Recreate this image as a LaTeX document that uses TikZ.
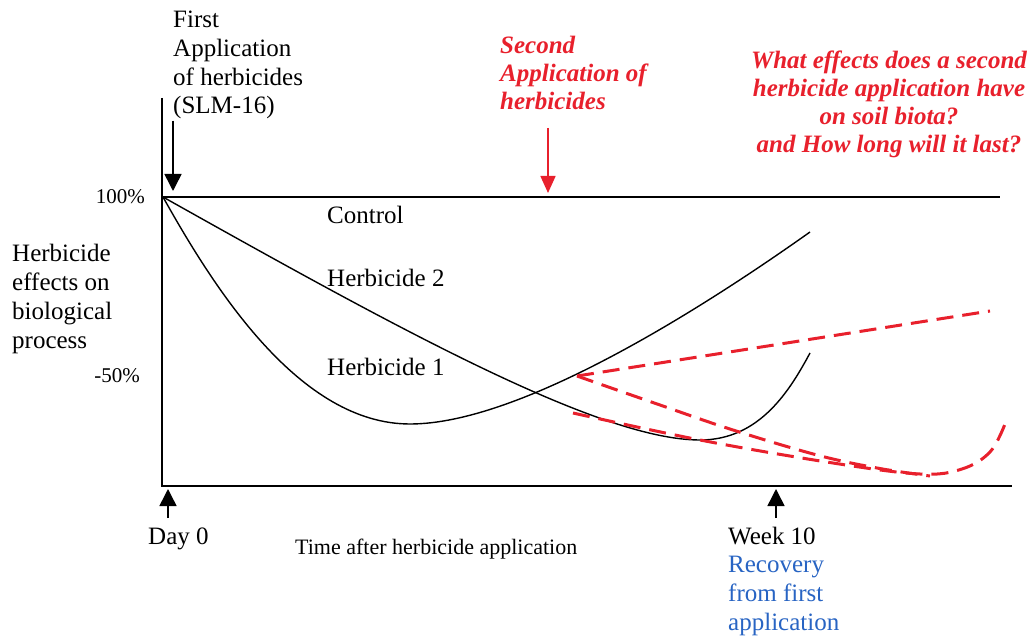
\documentclass[tikz,border=0pt]{standalone}
\usepackage{fontspec}
\setmainfont{Liberation Serif}
\usetikzlibrary{arrows.meta}
\definecolor{qred}{RGB}{232,32,44}
\definecolor{qblue}{RGB}{40,100,195}

\begin{document}
\begin{tikzpicture}[x=1pt,y=-1pt,
  lbl/.style={font=\fontsize{25}{28.7}\selectfont, inner sep=0pt, align=left},
  pct/.style={font=\fontsize{21}{25}\selectfont, inner sep=0pt},
  redlbl/.style={text=qred, inner sep=0pt, font=\fontsize{25}{28.3}\selectfont\bfseries\itshape},
  bluelbl/.style={lbl, text=qblue},
  curve/.style={line width=1.4pt, black},
  axisline/.style={line width=2pt, black},
  redcurve/.style={qred, line width=3pt, dash pattern=on 17pt off 9pt},
  marker/.style={-{Triangle[width=17pt,length=17pt]}, line width=1.5pt},
  redmarker/.style={qred, -{Triangle[width=15pt,length=17pt]}, line width=1.5pt}
]
\useasboundingbox (0,0) rectangle (1030,636);

% axes and control level
\coordinate (ytop) at (162,98);
\coordinate (origin) at (162,486);
\coordinate (xend) at (1012,486);
\draw[axisline] (ytop) -- (origin) -- (xend);
\coordinate (c0) at (163,197);
\coordinate (c1) at (1000,197);
\draw[curve] (c0) -- (c1);

% axis labels (base = baseline of the last line)
\node[pct, anchor=base east] (p100) at (145,204) {100\%};
\node[pct, anchor=base east] (p50) at (140,382) {-50\%};
\node[lbl, anchor=base west] (ylab) at (12,348) {Herbicide\\effects on\\biological\\process};

% first application
\node[lbl, anchor=base west] (first) at (173,114) {First\\Application\\of herbicides\\(SLM-16)};
\coordinate (firsttip) at (173,191);
\draw[marker] (first.south west) ++(0,1) coordinate (firsttail) -- (firsttip);

% second application
\node[redlbl, anchor=base west, align=left] (second) at (500,110) {Second\\Application of\\herbicides};
\coordinate (secondtail) at (548,128);
\coordinate (secondtip) at (548,193);
\draw[redmarker] (secondtail) -- (secondtip);

% question
\node[redlbl, anchor=base, align=center] (question) at (889,153) {What effects does a second\\herbicide application have\\on soil biota?\\and How long will it last?};

% curve labels
\node[lbl, anchor=base west] (lcontrol) at (327,224) {Control};
\node[lbl, anchor=base west] (lh2) at (327,287) {Herbicide 2};
\node[lbl, anchor=base west] (lh1) at (327,375) {Herbicide 1};

% herbicide 1: fast, deep drop, early recovery
\coordinate (h1min) at (410,424);
\coordinate (h1end) at (810,232);
\draw[curve] (c0) .. controls (215,290) and (300,424) .. (h1min)
                  .. controls (520,424) and (700,310) .. (h1end);
% herbicide 2: slow decline, late recovery
\coordinate (h2min) at (700,440);
\coordinate (h2end) at (810,353);
\draw[curve] (c0) .. controls (400,330) and (600,440) .. (h2min)
                  .. controls (760,440) and (790,390) .. (h2end);

% projected responses after the second application
\coordinate (split) at (577,376);
\coordinate (upend) at (990,311);
\draw[redcurve] (split) -- (upend);
\draw[redcurve] plot[smooth, tension=0.6] coordinates {(577,376) (660,405) (733,430) (817,455) (877,468) (930,476)};
\draw[redcurve] plot[smooth, tension=0.6] coordinates {(573,413) (700,440) (833,463) (920,474) (962,469) (990,452) (1005,424)};

% time axis markers
\coordinate (d0tail) at (168,518);
\coordinate (d0tip) at (168,489);
\draw[marker] (d0tail) -- (d0tip);
\node[lbl, anchor=base west] (day0) at (148,544) {Day 0};
\coordinate (w10tail) at (776,518);
\coordinate (w10tip) at (776,489);
\draw[marker] (w10tail) -- (w10tip);
\node[lbl, anchor=base west] (week10) at (728,544) {Week 10};
\node[bluelbl, anchor=base west] (recovery) at (728,630) {Recovery\\from first\\application};
\node[inner sep=0pt, font=\fontsize{22}{26}\selectfont, anchor=base west] (xlab) at (295,554) {Time after herbicide application};
\end{tikzpicture}
\end{document}
